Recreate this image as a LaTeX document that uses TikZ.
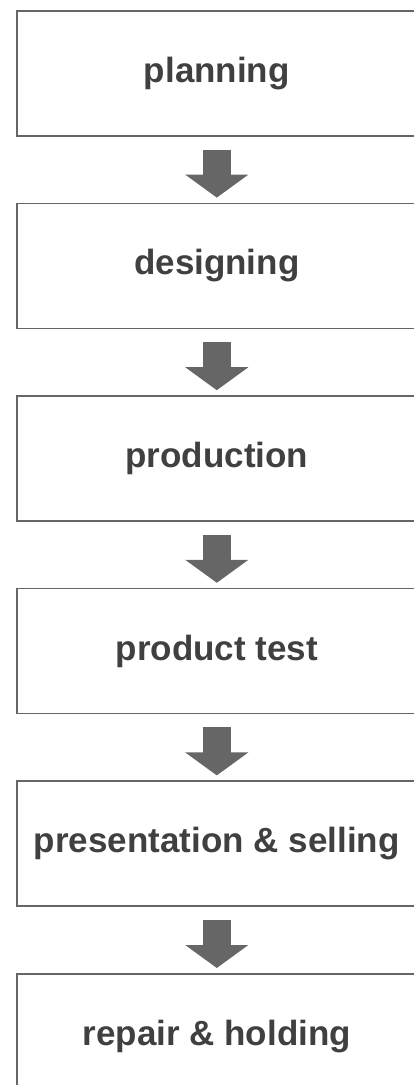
\documentclass[tikz,border=0pt]{standalone}
\usepackage{fontspec}
\newfontfamily\boxfont{Liberation Sans}
\usepackage{tikz}
\usetikzlibrary{arrows.meta, positioning}

\definecolor{edgegray}{HTML}{666666}
\definecolor{textgray}{HTML}{404040}

\begin{document}
\begin{tikzpicture}[
    x=1pt, y=1pt,
    node distance=66pt,
    box/.style={draw=edgegray, line width=1.6pt, rectangle, align=center, minimum width=400pt, minimum height=125pt,
        font=\boxfont\bfseries\fontsize{35}{42}\selectfont, text=textgray, text height=25pt, text depth=7pt},
    arrow/.style={draw=edgegray, line width=28pt, -{Triangle[length=23pt, width=62pt, fill=edgegray]}, shorten <=13pt, shorten >=5pt}
]
\useasboundingbox (0,0) rectangle (414,-1085);
\clip (0,0) rectangle (414,-1085);

% Nodes
\node[box, anchor=north west] (plan) at (16,-10) {planning};
\node[box, below=of plan] (design) {designing};
\node[box, below=of design] (prod) {production};
\node[box, below=of prod] (test) {product test};
\node[box, below=of test] (sell) {presentation \& selling};
\node[box, below=of sell] (repair) {repair \& holding};

% Arrows
\draw[arrow] (plan) -- (design);
\draw[arrow] (design) -- (prod);
\draw[arrow] (prod) -- (test);
\draw[arrow] (test) -- (sell);
\draw[arrow] (sell) -- (repair);

\end{tikzpicture}
\end{document}
